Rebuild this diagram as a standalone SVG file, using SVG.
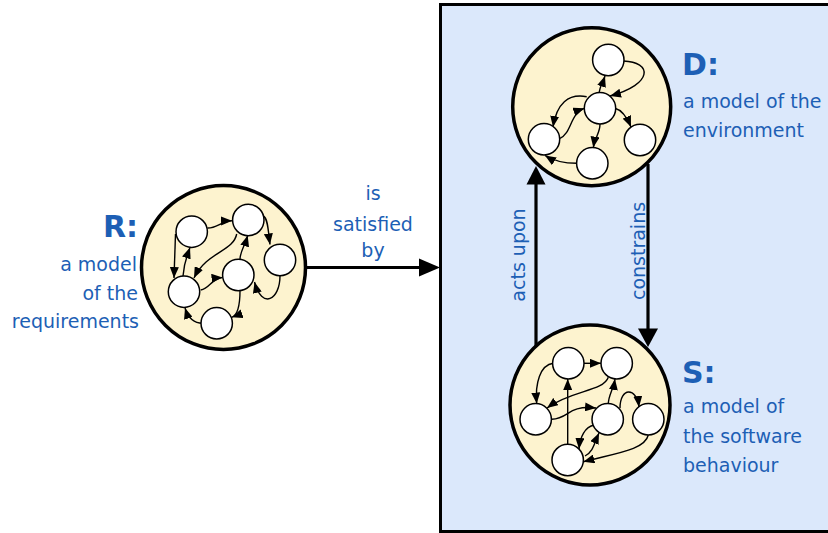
<svg xmlns="http://www.w3.org/2000/svg" width="828" height="533" viewBox="0 0 828 533">
  <defs>
    <style>
      .lbl { font-family: "DejaVu Sans", "Liberation Sans", sans-serif; font-size: 19px; fill: #1d5fb5; }
      .big { font-family: "DejaVu Sans", "Liberation Sans", sans-serif; font-size: 30px; font-weight: bold; fill: #1d5fb5; }
      .model { fill: #fdf3cf; stroke: #000; stroke-width: 3.5; }
      .st { fill: #fff; stroke: #000; stroke-width: 1.5; }
      .tr { fill: none; stroke: #000; stroke-width: 1.4; marker-end: url(#ah); }
      .main { fill: none; stroke: #000; stroke-width: 3.2; }
    </style>
    <marker id="ah" viewBox="0 0 10 10" refX="10" refY="5" markerWidth="11" markerHeight="9" markerUnits="userSpaceOnUse" orient="auto" preserveAspectRatio="none">
      <path d="M0,0 L10,5 L0,10 Z" fill="#000"/>
    </marker>
  </defs>

  <rect width="828" height="533" fill="#fff"/>

  <!-- environment/software panel -->
  <g id="panel">
    <rect x="440.5" y="4.5" width="400" height="527" fill="#dbe8fb" stroke="#000" stroke-width="3"/>
  </g>

  <!-- top-level connectors -->
  <g id="connectors">
    <line class="main" x1="305" y1="267.5" x2="422" y2="267.5"/>
    <polygon points="419,258.5 440,267.5 419,276.5" fill="#000"/>
    <line class="main" x1="536" y1="347" x2="536" y2="184"/>
    <polygon points="526.5,184.5 536,166 545.5,184.5" fill="#000"/>
    <line class="main" x1="648" y1="164" x2="648" y2="330"/>
    <polygon points="638,328.5 648,347 658,328.5" fill="#000"/>
    <text class="lbl" x="373" y="200" text-anchor="middle">is</text>
    <text class="lbl" x="373" y="231" text-anchor="middle">satisfied</text>
    <text class="lbl" x="373" y="257" text-anchor="middle">by</text>
    <text class="lbl" transform="translate(525,255) rotate(-90)" text-anchor="middle">acts upon</text>
    <text class="lbl" transform="translate(645,251) rotate(-90)" text-anchor="middle">constrains</text>
  </g>

  <!-- R: requirements model -->
  <g id="node-R">
    <circle class="model" cx="223.5" cy="267.5" r="82"/>
    <g>
      <path class="tr" d="M207.5,228 C216.7,228.3 221.7,221 232,220.7"/>
      <path class="tr" d="M175.5,234 L174,278"/>
      <path class="tr" d="M183,276 C184,262 187,256 190,247.5"/>
      <path class="tr" d="M236.7,234 C233.3,251.7 206.7,251.7 194,278"/>
      <path class="tr" d="M263.3,216 C268.3,218.3 268.3,233.3 270,244.5"/>
      <path class="tr" d="M200.7,290 C210,288.3 211.7,278.3 222.5,277.5"/>
      <path class="tr" d="M240,259.3 C240,251.7 245,245 247.7,235.5"/>
      <path class="tr" d="M280,275.7 C280,300 262,310 254.5,282"/>
      <path class="tr" d="M240,290.5 C240,303.3 238.3,315 231.7,317.3"/>
      <path class="tr" d="M202.7,323.3 C195,323.3 188.3,318.3 185,308"/>
    </g>
    <circle class="st" cx="191.7" cy="231.7" r="15.7"/>
    <circle class="st" cx="248.3" cy="220" r="15.7"/>
    <circle class="st" cx="280" cy="260" r="15.7"/>
    <circle class="st" cx="238.3" cy="275" r="15.7"/>
    <circle class="st" cx="184" cy="291.7" r="15.7"/>
    <circle class="st" cx="216.7" cy="323.3" r="15.7"/>
    <text class="big" x="138" y="237" text-anchor="end">R:</text>
    <text class="lbl" x="137" y="271" text-anchor="end">a model</text>
    <text class="lbl" x="138" y="300" text-anchor="end">of the</text>
    <text class="lbl" x="139" y="328" text-anchor="end">requirements</text>
  </g>

  <!-- D: environment model -->
  <g id="node-D">
    <circle class="model" cx="591.7" cy="106.7" r="79"/>
    <g>
      <path class="tr" d="M623.5,61 C652,62 654,84 610,96"/>
      <path class="tr" d="M599,93 C600,86 603,82 605,76"/>
      <path class="tr" d="M586.7,96.7 C568.3,93.3 556.7,103.3 553,127"/>
      <path class="tr" d="M560,138.3 C571.7,133.3 570,113.3 584.3,108.3"/>
      <path class="tr" d="M615,108.3 C621.7,110 626.7,116.7 631,127"/>
      <path class="tr" d="M600,124 C600,133.3 595,136.7 593.3,147.6"/>
      <path class="tr" d="M576.7,163.3 C565,163.3 555,161.7 545,155.5"/>
    </g>
    <circle class="st" cx="608.3" cy="60" r="15.7"/>
    <circle class="st" cx="600" cy="108.3" r="15.7"/>
    <circle class="st" cx="544" cy="139.3" r="15.7"/>
    <circle class="st" cx="592.3" cy="163.3" r="15.7"/>
    <circle class="st" cx="640" cy="140" r="15.7"/>
    <text class="big" x="682" y="75">D:</text>
    <text class="lbl" x="683" y="108">a model of the</text>
    <text class="lbl" x="683" y="137">environment</text>
  </g>

  <!-- S: software behaviour model -->
  <g id="node-S">
    <circle class="model" cx="590" cy="405" r="80"/>
    <g>
      <path class="tr" d="M584,363.3 L601,363.3"/>
      <path class="tr" d="M553.3,363.3 C540,365 535,383.3 536.7,403.6"/>
      <path class="tr" d="M608.3,377.3 C603.3,391.7 571.7,390 547,408"/>
      <path class="tr" d="M551.7,419.3 C570,418.3 566.7,405 596,408"/>
      <path class="tr" d="M567.7,444.3 L567.7,379"/>
      <path class="tr" d="M608.3,404 C608.3,395 613.3,390 615,379"/>
      <path class="tr" d="M620,408.3 C620,386.7 636.7,386.7 639,407"/>
      <path class="tr" d="M648.3,435 C645,450 615,453.3 583.4,461.7"/>
      <path class="tr" d="M594.3,425 C585,426.7 580,436.7 579,449"/>
      <path class="tr" d="M585,456 C593.3,451.7 594.3,443.3 599,433"/>
    </g>
    <circle class="st" cx="568.3" cy="363.3" r="15.7"/>
    <circle class="st" cx="616.7" cy="363.3" r="15.7"/>
    <circle class="st" cx="535.7" cy="419.3" r="15.7"/>
    <circle class="st" cx="607.7" cy="419.3" r="15.7"/>
    <circle class="st" cx="648.3" cy="419.3" r="15.7"/>
    <circle class="st" cx="567.7" cy="460" r="15.7"/>
    <text class="big" x="682" y="383">S:</text>
    <text class="lbl" x="683" y="413">a model of</text>
    <text class="lbl" x="683" y="443">the software</text>
    <text class="lbl" x="683" y="472">behaviour</text>
  </g>
</svg>
